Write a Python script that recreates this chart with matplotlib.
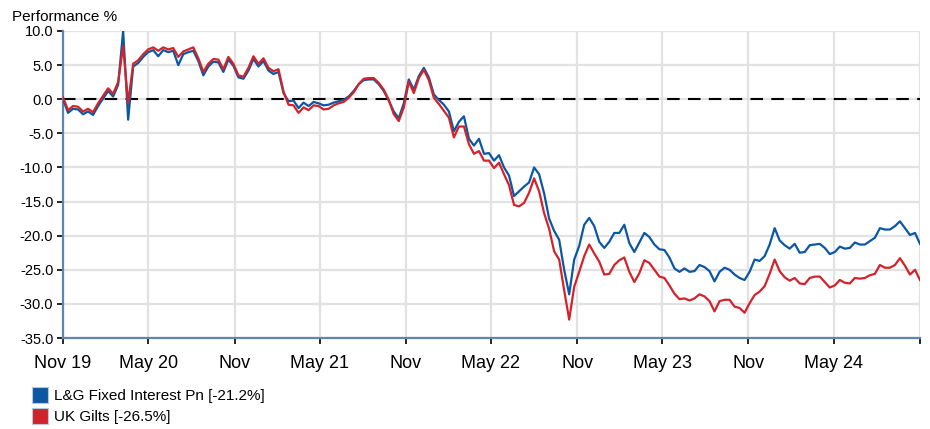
import matplotlib
matplotlib.use('Agg')
import numpy as np
import pandas as pd
import matplotlib.pyplot as plt
import matplotlib.dates as mdates
from matplotlib.lines import Line2D

plt.rcParams['font.family'] = ['Liberation Sans', 'DejaVu Sans']

# performance %, evenly spaced Nov 2019 - Nov 2024
gilts = [0.3, -1.6, -1.0, -1.1, -1.8, -1.4, -1.9, -0.6, 0.5, 1.6,
         0.8, 2.5, 7.8, -0.6, 5.2, 5.7, 6.6, 7.3, 7.6, 7.1,
         7.6, 7.3, 7.5, 6.2, 7.0, 7.3, 7.6, 6.0, 4.0, 5.2,
         5.9, 5.8, 4.4, 6.2, 5.2, 3.5, 3.3, 4.6, 6.3, 5.2,
         6.0, 4.6, 4.1, 4.4, 1.1, -0.8, -0.9, -2.0, -1.2, -1.6,
         -0.9, -1.0, -1.5, -1.4, -0.9, -0.6, -0.4, 0.2, 1.0, 2.2,
         3.0, 3.1, 3.1, 2.4, 1.4, -0.1, -2.2, -3.2, -1.2, 2.6,
         0.9, 3.1, 4.3, 2.8, 0.2, -0.7, -1.7, -2.7, -5.6, -4.0,
         -4.0, -6.6, -8.0, -7.6, -9.0, -9.0, -10.1, -9.3, -11.0, -12.6,
         -15.5, -15.7, -15.2, -13.7, -11.6, -13.5, -16.7, -19.0, -22.3, -23.5,
         -28.0, -32.3, -27.5, -25.3, -23.0, -21.3, -22.6, -23.8, -25.7, -25.6,
         -24.3, -23.6, -23.2, -25.3, -26.8, -25.5, -23.6, -24.0, -25.0, -26.0,
         -26.2, -27.3, -28.5, -29.3, -29.2, -29.5, -29.2, -28.6, -28.9, -29.6,
         -31.1, -29.6, -29.4, -29.4, -30.4, -30.6, -31.3, -29.9, -28.7, -28.2,
         -27.4, -25.6, -23.5, -25.2, -26.1, -26.6, -26.2, -27.0, -27.1, -26.2,
         -26.0, -26.0, -26.8, -27.6, -27.3, -26.5, -26.9, -27.0, -26.2, -26.3,
         -26.2, -25.8, -25.6, -24.3, -24.7, -24.7, -24.3, -23.3, -24.4, -25.7,
         -25.0, -26.5]
fund = [0.0, -2.0, -1.4, -1.5, -2.2, -1.8, -2.3, -1.0, 0.1, 1.2,
        0.4, 2.1, 10.0, -3.0, 4.8, 5.3, 6.2, 6.9, 7.2, 6.3,
        7.2, 6.9, 7.1, 5.0, 6.6, 6.9, 7.1, 5.6, 3.5, 4.8,
        5.5, 5.4, 4.0, 5.8, 4.9, 3.2, 3.0, 4.2, 5.9, 4.8,
        5.6, 4.2, 3.7, 4.0, 0.9, -0.3, -0.2, -1.3, -0.5, -1.0,
        -0.4, -0.6, -0.9, -0.8, -0.5, -0.3, -0.1, 0.4, 1.2, 2.2,
        2.8, 2.9, 2.9, 2.2, 1.2, -0.2, -1.8, -2.8, -0.6, 2.9,
        1.4, 3.4, 4.6, 3.2, 0.7, -0.1, -0.8, -1.8, -4.7, -3.3,
        -2.5, -5.8, -6.8, -5.8, -8.0, -7.9, -9.0, -8.2, -10.0, -11.2,
        -14.2, -13.5, -12.8, -12.2, -10.0, -11.0, -13.8, -17.5, -19.3, -20.6,
        -25.0, -28.6, -23.5, -21.5, -18.4, -17.4, -18.6, -20.9, -21.8, -20.9,
        -19.6, -19.6, -18.4, -21.1, -22.4, -21.0, -19.6, -20.2, -21.3, -22.0,
        -22.1, -23.2, -24.8, -25.3, -24.8, -25.3, -25.2, -24.3, -24.6, -25.2,
        -26.7, -25.3, -24.7, -25.0, -25.7, -26.2, -26.5, -25.3, -23.5, -23.7,
        -23.0, -21.3, -18.9, -20.7, -21.4, -21.9, -21.2, -22.5, -22.4, -21.4,
        -21.3, -21.2, -21.8, -22.7, -22.4, -21.6, -21.9, -21.8, -21.0, -21.3,
        -21.3, -20.8, -20.3, -18.9, -19.1, -19.1, -18.6, -17.9, -18.9, -19.9,
        -19.6, -21.2]
names = ['L&G Fixed Interest Pn [-21.2%]', 'UK Gilts [-26.5%]']
tick_dates = ['2019-11-01', '2020-05-01', '2020-11-01', '2021-05-01',
              '2021-11-01', '2022-05-01', '2022-11-01', '2023-05-01',
              '2023-11-01', '2024-05-01', '2024-11-01']
tick_labels = ['Nov 19', 'May 20', 'Nov', 'May 21', 'Nov', 'May 22',
               'Nov', 'May 23', 'Nov', 'May 24', '']
yticks = [10, 5, 0, -5, -10, -15, -20, -25, -30, -35]

blue = '#0b57a4'
red = '#d2232a'
dates = pd.date_range('2019-11-01', '2024-11-01', periods=len(gilts))

fig = plt.figure(figsize=(9.3, 4.29), dpi=100)
ax = fig.add_axes([63/930, 1-338/429, 857/930, 307/429])

ax.axhline(0, color='black', lw=1.5, dashes=(6, 4), zorder=2)
ax.plot(dates, fund, color=blue, lw=1.6, zorder=3)
ax.plot(dates, gilts, color=red, lw=1.6, zorder=4)

tks = pd.to_datetime(tick_dates)
ax.set_xlim(tks[0], tks[-1])
ax.set_xticks(tks)
ax.set_xticklabels(tick_labels, fontsize=13)
ax.set_ylim(-35, 10)
ax.set_yticks(yticks)
ax.set_yticklabels([f'{v:.1f}' for v in yticks], fontsize=10.5)

ax.grid(True, color='#e2e2e2', lw=1.6, zorder=0)
ax.set_axisbelow(True)
for s in ['top', 'right']:
    ax.spines[s].set_visible(False)
for s in ['left', 'bottom']:
    ax.spines[s].set_color('#5f86b3')
    ax.spines[s].set_linewidth(1.6)
ax.tick_params(axis='both', colors='black', length=4, width=1.2, direction='out')
ax.tick_params(axis='x', pad=8)
ax.tick_params(axis='y', pad=3)

fig.text(12/930, 1-17/429, 'Performance %', fontsize=11, va='center', ha='left')

handles = [Line2D([], [], ls='none', marker='s', markersize=12,
                  markerfacecolor=c, markeredgecolor='#b8c8dc', markeredgewidth=0.8)
           for c in [blue, red]]
fig.legend(handles, names, loc='upper left', bbox_to_anchor=(26/930, 1-383/429),
           frameon=False, fontsize=11, handlelength=1.0, handletextpad=0.4,
           labelspacing=0.45, borderaxespad=0)

fig.savefig('out.png', dpi=100)
